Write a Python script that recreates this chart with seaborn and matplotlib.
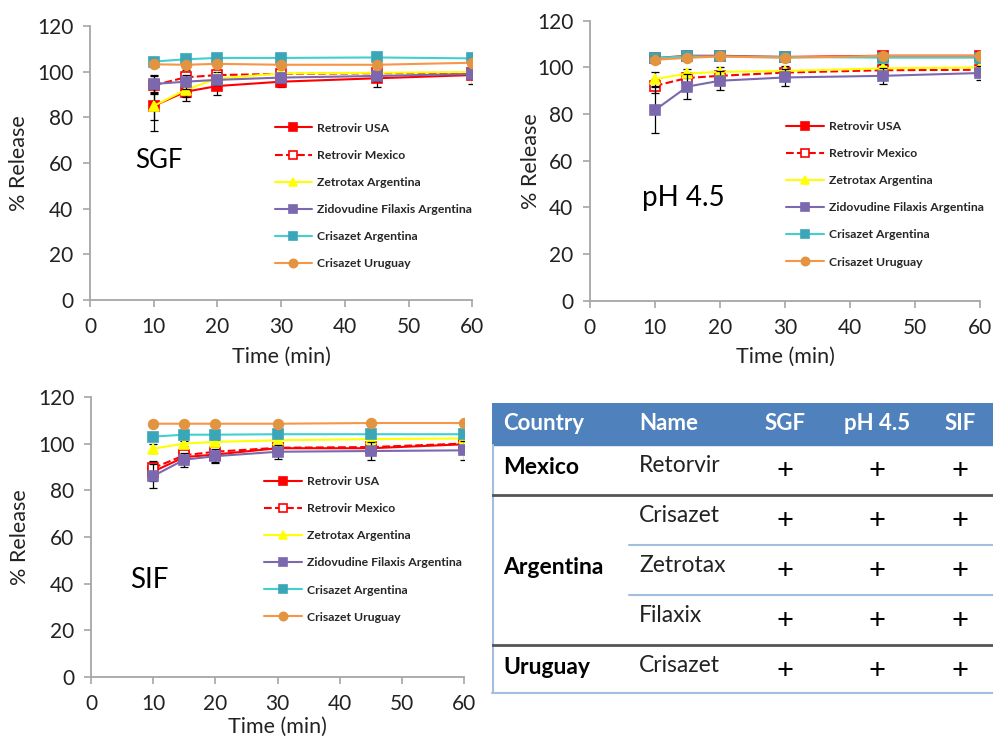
import numpy as np
import pandas as pd
import matplotlib
matplotlib.use("Agg")
import matplotlib.pyplot as plt
import seaborn as sns
from matplotlib.patches import Rectangle

# sampling times (min)
time_min = [10, 15, 20, 30, 45, 60]

series_names = ["Retrovir USA", "Retrovir Mexico", "Zetrotax Argentina",
                "Zidovudine Filaxis Argentina", "Crisazet Argentina", "Crisazet Uruguay"]

# mean % release, one row per product (same order as series_names)
sgf_mean = [[85.0, 91.2, 93.7, 95.6, 97.1, 98.5],
            [94.0, 97.5, 98.5, 99.0, 99.3, 99.5],
            [85.0, 92.0, 97.0, 99.2, 99.5, 99.8],
            [94.6, 95.6, 96.4, 97.4, 98.1, 99.0],
            [104.4, 105.4, 106.0, 106.0, 106.2, 105.8],
            [103.2, 103.0, 103.4, 103.0, 103.0, 103.9]]
sgf_sd = [[6, 4, 4, 2.5, 4, 4],
          [4, 3, 2, 2, 2, 2],
          [11, 3, 3, 2, 2, 2],
          [4, 3, 2, 2, 2, 2],
          [1, 1, 1, 1, 1, 1],
          [1, 1, 1, 1, 1, 1]]

ph45_mean = [[104.0, 105.0, 105.0, 104.5, 105.0, 105.0],
             [92.1, 95.5, 96.4, 97.8, 98.8, 99.0],
             [95.0, 97.4, 98.1, 98.5, 99.6, 100.0],
             [81.7, 91.8, 94.3, 95.7, 96.4, 97.6],
             [104.0, 104.8, 104.7, 104.5, 104.2, 104.2],
             [103.3, 104.1, 104.7, 104.1, 105.0, 105.0]]
ph45_sd = [[2, 1, 1, 1, 1, 1],
           [3, 2, 2, 2, 2, 2],
           [3, 2, 2, 2, 2, 2],
           [10, 5.4, 4, 3.6, 3.3, 3],
           [1, 1, 1, 1, 1, 1],
           [1.5, 1, 1, 1, 1, 1]]

sif_mean = [[88.0, 94.2, 95.3, 98.0, 98.0, 99.7],
            [89.5, 95.0, 96.5, 98.2, 98.5, 100.0],
            [97.8, 100.0, 100.7, 101.4, 101.9, 102.2],
            [86.1, 93.1, 94.6, 96.5, 96.8, 97.1],
            [103.0, 103.8, 103.8, 104.0, 104.0, 104.0],
            [108.5, 108.5, 108.5, 108.5, 108.8, 108.8]]
sif_sd = [[4, 3, 3, 2, 2, 2],
          [3, 2, 2, 2, 2, 2],
          [2, 1, 1, 1, 1, 1],
          [5, 3, 3, 3, 4, 4],
          [1, 1, 1, 1, 1, 1],
          [1, 1, 1, 1, 1, 1]]

# table contents
table_header = ["Country", "Name", "SGF", "pH 4.5", "SIF"]
table_country = ["Mexico", "Argentina", "Uruguay"]
table_group_size = [1, 3, 1]
table_names = ["Retorvir", "Crisazet", "Zetrotax", "Filaxix", "Crisazet"]
table_marks = [["+", "+", "+"]] * 5

# styles
line_colors = ["#FF0000", "#FF0000", "#FFFF00", "#7B68AE", "#40D0D0", "#F79646"]
face_colors = ["#FF0000", "white", "#FFFF00", "#7B68AE", "#3AA6B8", "#E39440"]
edge_colors = ["#FF0000", "#FF0000", "#FFFF00", "#7B68AE", "#3AA6B8", "#E39440"]
markers = ["s", "s", "^", "s", "s", "o"]
line_styles = ["-", "--", "-", "-", "-", "-"]

sns.set_theme(style="white")
plt.rcParams["font.family"] = ["Lato", "DejaVu Sans"]

fig = plt.figure(figsize=(9.93, 7.41), dpi=100)
spine_gray = "#A6A6A6"
text_col = "#222222"


def draw_panel(ax, means, sds, tag, tag_xy, tag_size, leg_anchor, ypad=6, xpad=7):
    for i, name in enumerate(series_names):
        ax.errorbar(time_min, means[i], yerr=sds[i], fmt="none", ecolor="black",
                    elinewidth=0.9, capsize=3, capthick=0.9, zorder=2.5 + i)
        sns.lineplot(x=time_min, y=means[i], ax=ax, label=name,
                     color=line_colors[i], linestyle=line_styles[i], linewidth=1.5,
                     marker=markers[i], markersize=7, markerfacecolor=face_colors[i],
                     markeredgecolor=edge_colors[i], markeredgewidth=1.2, zorder=3 + i)
    ax.set_xlim(0, 60)
    ax.set_ylim(0, 120)
    ax.set_xticks(range(0, 61, 10))
    ax.set_yticks(range(0, 121, 20))
    for s in ["top", "right"]:
        ax.spines[s].set_visible(False)
    for s in ["left", "bottom"]:
        ax.spines[s].set_color(spine_gray)
        ax.spines[s].set_linewidth(1.3)
    ax.tick_params(direction="out", length=5, width=1.2, color=spine_gray,
                   labelsize=15, labelcolor=text_col, left=True, bottom=True, pad=7)
    ax.set_xlabel("Time (min)", fontsize=15.5, color=text_col, labelpad=xpad)
    ax.set_ylabel("% Release", fontsize=15.5, color=text_col, labelpad=ypad)
    ax.text(tag_xy[0], tag_xy[1], tag, transform=ax.transAxes, fontsize=tag_size,
            va="center", ha="left", color="black")
    ax.legend(loc="upper left", bbox_to_anchor=leg_anchor, frameon=False,
              prop=dict(weight="bold", size=8.8), handlelength=3.1, markerscale=0.85,
              labelspacing=1.32, handletextpad=0.4, borderaxespad=0)


ax1 = fig.add_axes([0.0906, 0.595, 0.385, 0.370])
draw_panel(ax1, sgf_mean, sgf_sd, "SGF", (0.118, 0.51), 18.5, (0.47, 0.665))

ax2 = fig.add_axes([0.594, 0.594, 0.393, 0.378])
draw_panel(ax2, ph45_mean, ph45_sd, "pH 4.5", (0.133, 0.368), 20, (0.49, 0.66), ypad=-3)

ax3 = fig.add_axes([0.0916, 0.0864, 0.376, 0.378])
draw_panel(ax3, sif_mean, sif_sd, "SIF", (0.105, 0.346), 20, (0.45, 0.735), xpad=2)

# table drawn in pixel-like units
tab = fig.add_axes([492 / 993, 1 - 695 / 741, 501 / 993, 292 / 741])
tab.set_xlim(0, 501)
tab.set_ylim(292, 0)
tab.axis("off")

header_h = 42
row_h = 50
col_x = [11, 147, 293, 385, 468]
col_ha = ["left", "left", "center", "center", "center"]
tab.add_patch(Rectangle((0, 0), 501, header_h, color="#4F81BD", zorder=1))
for j, h in enumerate(table_header):
    tab.text(col_x[j], header_h / 2, h, ha=col_ha[j], va="center", color="white",
             fontsize=16, fontweight="bold", zorder=2)

light_blue = "#A3BFE0"
dark_line = "#555555"
tab.plot([0.8, 0.8], [header_h, 290], color=light_blue, lw=1.5, clip_on=False)
tab.plot([0, 501], [290, 290], color=light_blue, lw=1.5, clip_on=False)

row = 0
for g, country in enumerate(table_country):
    n = table_group_size[g]
    top = header_h + row * row_h
    tab.text(col_x[0], top + n * row_h / 2 - 3, country, ha="left", va="center",
             fontsize=16.5, fontweight="bold", color="black")
    for k in range(n):
        rt = top + k * row_h
        tab.text(col_x[1], rt + 20, table_names[row + k], ha="left", va="center",
                 fontsize=16.5, color=text_col)
        for c in range(3):
            tab.text(col_x[2 + c], rt + 26, table_marks[row + k][c], ha="center",
                     va="center", fontsize=21, color="black")
        if k > 0:
            tab.plot([137, 501], [rt, rt], color=light_blue, lw=1.5)
    row += n
    if g < len(table_country) - 1:
        yb = header_h + row * row_h
        tab.plot([0, 501], [yb, yb], color=dark_line, lw=2)

fig.savefig("out.png", dpi=100)
